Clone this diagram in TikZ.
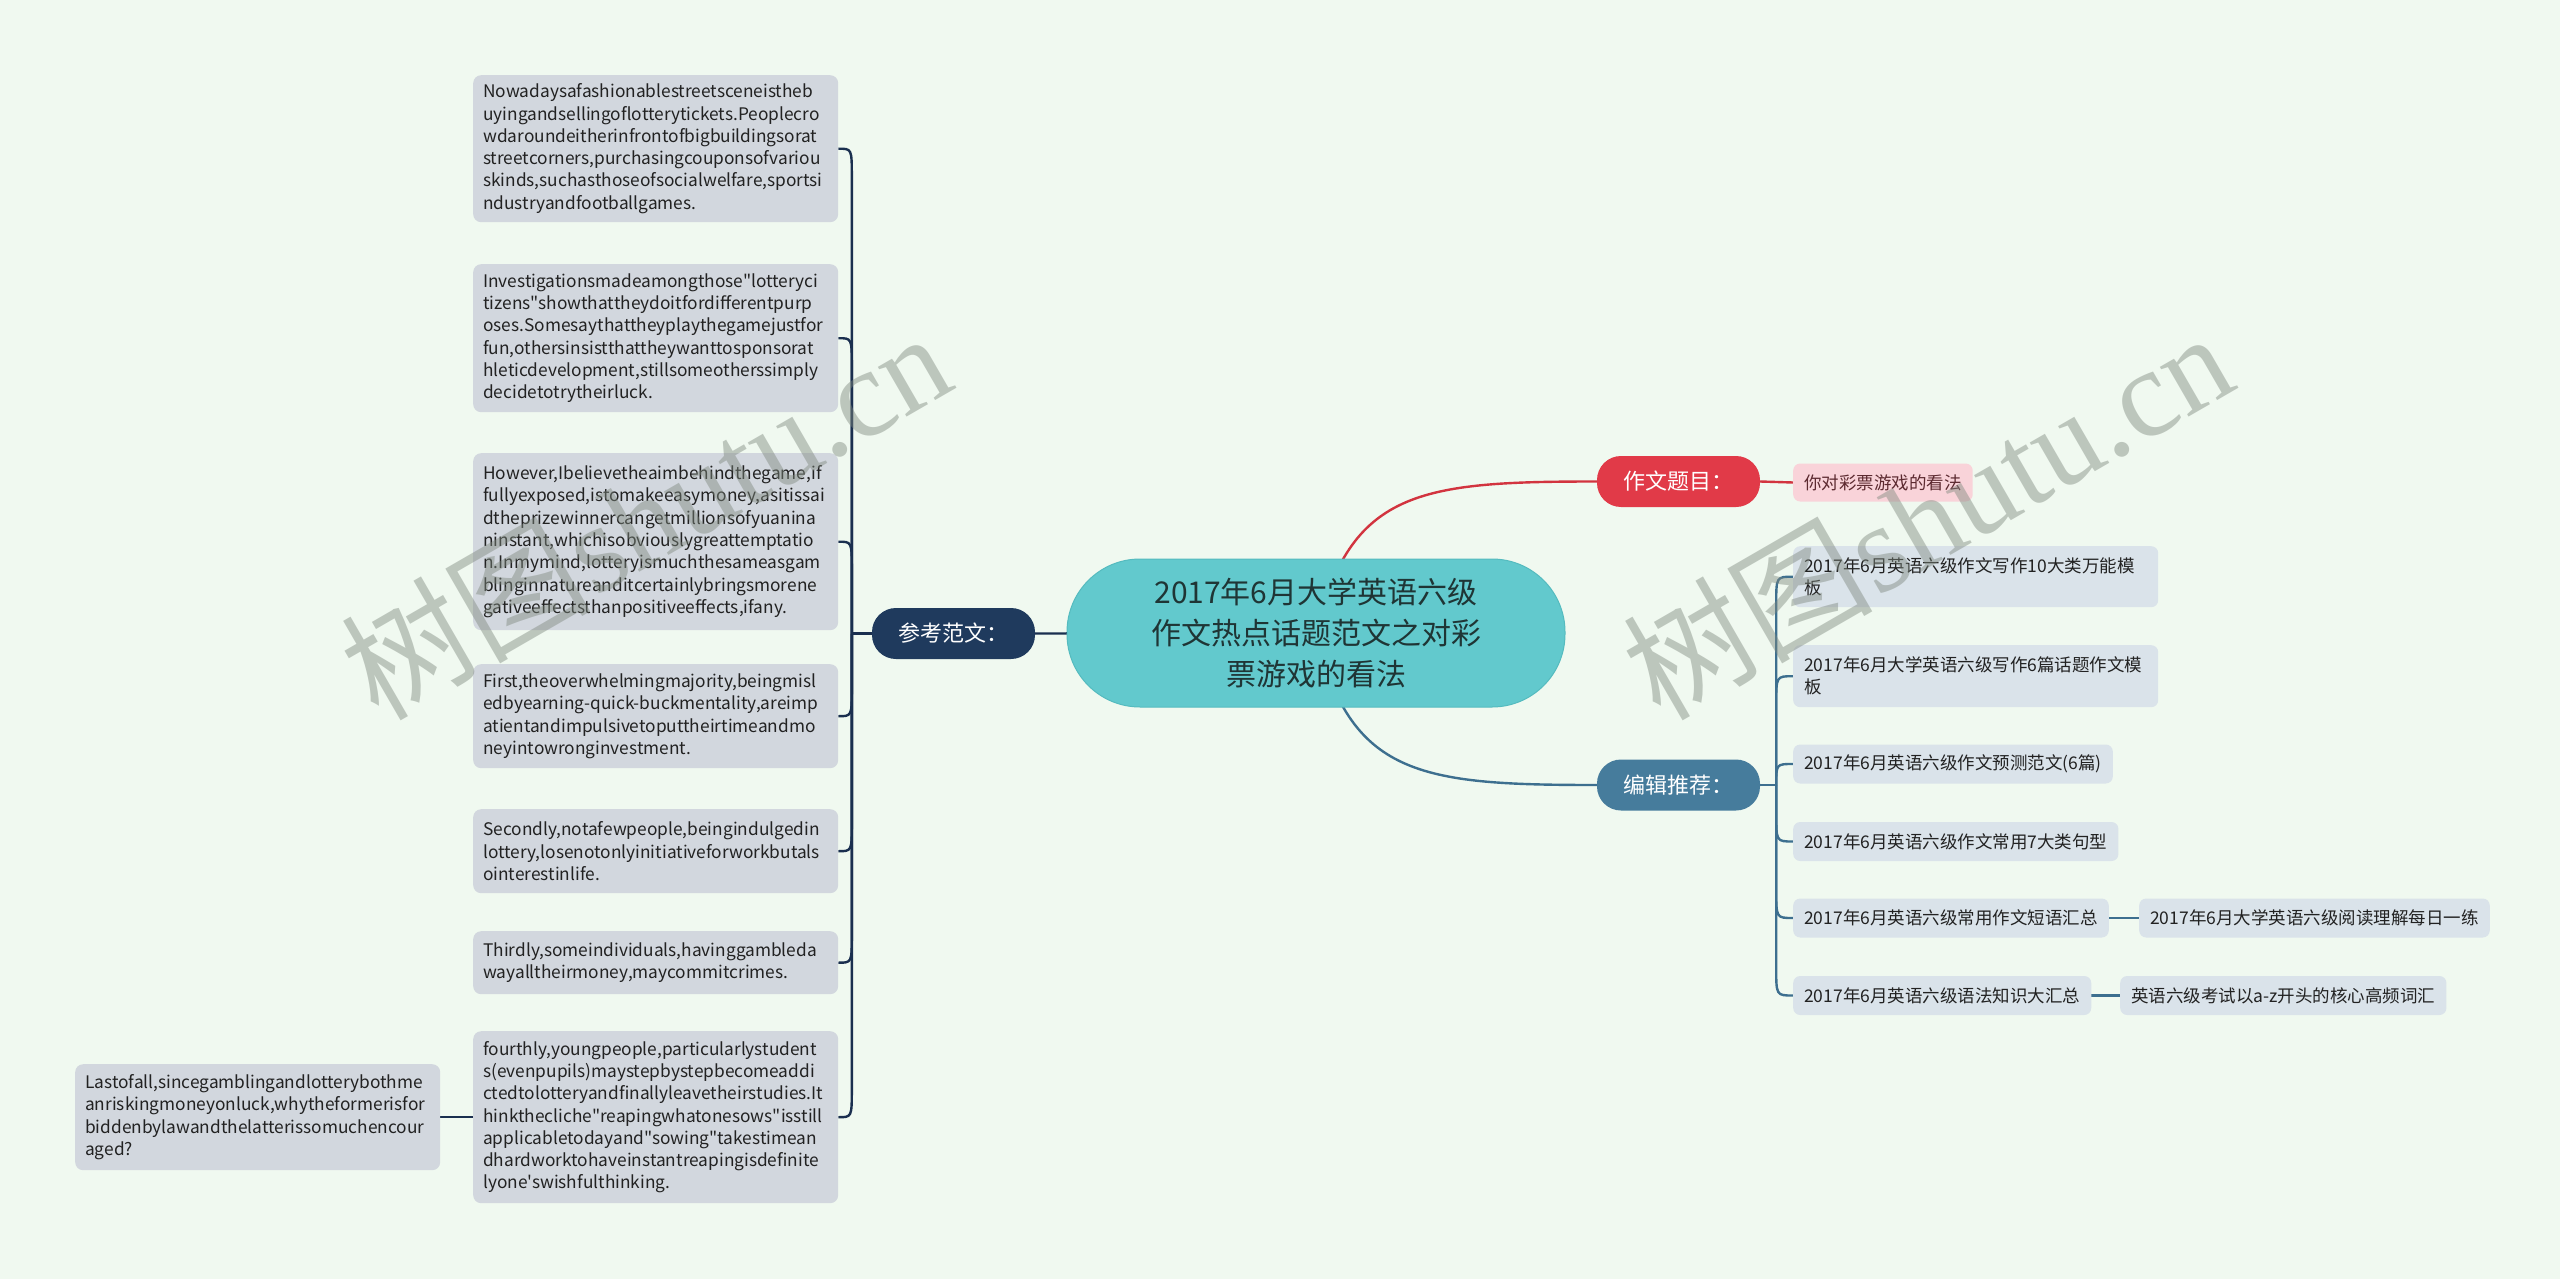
\documentclass[tikz,border=0pt]{standalone}
\usepackage{fontspec}
\newfontfamily\cjk{Noto Sans CJK SC}
\newfontfamily\wmlat{Liberation Serif}
\usetikzlibrary{calc}
\pgfdeclarelayer{back}
\pgfdeclarelayer{bg}
\pgfsetlayers{back,bg,main}
\hyphenpenalty=10000
\exhyphenpenalty=10000
\definecolor{bgc}{HTML}{F0F9F0}
\definecolor{centralc}{HTML}{62C9CD}
\definecolor{centrald}{HTML}{55BBBF}
\definecolor{centralt}{HTML}{1F3535}
\definecolor{navyf}{HTML}{1F3A5D}
\definecolor{navyl}{HTML}{1A2F4F}
\definecolor{redf}{HTML}{E13A48}
\definecolor{redl}{HTML}{D2343F}
\definecolor{bluef}{HTML}{467C9C}
\definecolor{bluel}{HTML}{3D6F8F}
\definecolor{pinkf}{HTML}{F9D3D9}
\definecolor{pinkt}{HTML}{5C2A30}
\definecolor{lleafc}{HTML}{D2D7DE}
\definecolor{rleafc}{HTML}{DAE3EA}
\definecolor{txt}{HTML}{222222}
\definecolor{wmc}{HTML}{7E887E}
\begin{document}
\begin{tikzpicture}[x=1pt,y=-1pt,
  central/.style={fill=centralc, draw=centrald, line width=1pt, rounded corners=73pt,
    minimum width=498pt, minimum height=148pt, align=center, text=centralt,
    font=\cjk\fontsize{30}{41}\selectfont},
  lvlone/.style={rounded corners=24pt, minimum width=163pt, minimum height=51pt,
    text=white, font=\cjk\fontsize{22}{26}\selectfont, inner sep=0pt},
  lleaf/.style={fill=lleafc, rounded corners=8pt, anchor=north west, align=left,
    inner xsep=10pt, inner ysep=0pt, text=txt, text width=345pt,
    font=\cjk\fontsize{17.3}{22.3}\selectfont},
  rleaf/.style={fill=rleafc, rounded corners=7pt, anchor=west, align=left,
    inner xsep=11pt, inner ysep=0pt, text=txt, minimum height=39pt,
    font=\cjk\fontsize{17.5}{22}\selectfont},
  rleaftwo/.style={rleaf, anchor=north west, text width=343pt},
  pleaf/.style={fill=pinkf, rounded corners=7pt, anchor=west, inner xsep=11pt,
    inner ysep=0pt, minimum height=38pt, text=pinkt,
    font=\cjk\fontsize{17.5}{22}\selectfont},
  navycon/.style={draw=navyl, line width=2.4pt},
  redcon/.style={draw=redl, line width=2.4pt},
  bluecon/.style={draw=bluel, line width=2.4pt},
  wm/.style={text=wmc, text opacity=0.45, font=\cjk\fontsize{125}{125}\selectfont, rotate=30, inner sep=0pt}
]
\begin{pgfonlayer}{back}
\fill[bgc] (0,0) rectangle (2560,1279);
\end{pgfonlayer}
\useasboundingbox (0,0) rectangle (2560,1279);

% central
\node[central] (c) at (1316,633) {2017年6月大学英语六级\\作文热点话题范文之对彩\\票游戏的看法};

% level one
\node[lvlone, fill=navyf] (ref) at (953.5,633.5) {参考范文：};
\node[lvlone, fill=redf] (zw) at (1678.5,481.5) {作文题目：};
\node[lvlone, fill=bluef] (bj) at (1678.5,785) {编辑推荐：};

% left leaves
\node[lleaf, minimum height=147pt] (l1) at (473,75) {Nowadaysafashionablestreetsceneistheb\\uyingandsellingoflotterytickets.Peoplecro\\wdaroundeitherinfrontofbigbuildingsorat\\streetcorners,purchasingcouponsofvariou\\skinds,suchasthoseofsocialwelfare,sportsi\\ndustryandfootballgames.};
\node[lleaf, minimum height=148pt] (l2) at (473,264) {Investigationsmadeamongthose"lotteryci\\tizens"showthattheydoitfordifferentpurp\\oses.Somesaythattheyplaythegamejustfor\\fun,othersinsistthattheywanttosponsorat\\hleticdevelopment,stillsomeotherssimply\\decidetotrytheirluck.};
\node[lleaf, minimum height=177pt] (l3) at (473,453) {However,Ibelievetheaimbehindthegame,if\\fullyexposed,istomakeeasymoney,asitissai\\dtheprizewinnercangetmillionsofyuanina\\ninstant,whichisobviouslygreattemptatio\\n.Inmymind,lotteryismuchthesameasgam\\blinginnatureanditcertainlybringsmorene\\gativeeffectsthanpositiveeffects,ifany.};
\node[lleaf, minimum height=104pt] (l4) at (473,664) {First,theoverwhelmingmajority,beingmisl\\edbyearning-quick-buckmentality,areimp\\atientandimpulsivetoputtheirtimeandmo\\neyintowronginvestment.};
\node[lleaf, minimum height=84pt] (l5) at (473,809) {Secondly,notafewpeople,beingindulgedin\\lottery,losenotonlyinitiativeforworkbutals\\ointerestinlife.};
\node[lleaf, minimum height=63pt] (l6) at (473,931) {Thirdly,someindividuals,havinggambleda\\wayalltheirmoney,maycommitcrimes.};
\node[lleaf, minimum height=172pt] (l7) at (473,1031) {fourthly,youngpeople,particularlystudent\\s(evenpupils)maystepbystepbecomeaddi\\ctedtolotteryandfinallyleavetheirstudies.It\\hinkthecliche"reapingwhatonesows"isstill\\applicabletodayand"sowing"takestimean\\dhardworktohaveinstantreapingisdefinite\\lyone\string'swishfulthinking.};
\node[lleaf, minimum height=106pt] (ll) at (75,1064) {Lastofall,sincegamblingandlotterybothme\\anriskingmoneyonluck,whytheformerisfor\\biddenbylawandthelatterissomuchencour\\aged?};

% right leaves
\node[pleaf] (p1) at (1793,482.5) {你对彩票游戏的看法};
\node[rleaftwo, minimum height=61pt] (r1) at (1793,546) {2017年6月英语六级作文写作10大类万能模\\板};
\node[rleaftwo, minimum height=62pt] (r2) at (1793,645) {2017年6月大学英语六级写作6篇话题作文模\\板};
\node[rleaf] (r3) at (1793,764) {2017年6月英语六级作文预测范文(6篇)};
\node[rleaf] (r4) at (1793,841.5) {2017年6月英语六级作文常用7大类句型};
\node[rleaf] (r5) at (1793,918) {2017年6月英语六级常用作文短语汇总};
\node[rleaf] (r5c) at (2139,918) {2017年6月大学英语六级阅读理解每日一练};
\node[rleaf] (r6) at (1793,995.5) {2017年6月英语六级语法知识大汇总};
\node[rleaf] (r6c) at (2120,995.5) {英语六级考试以a-z开头的核心高频词汇};

\coordinate (jl) at ($(ref.west)+(-20,0)$);
\coordinate (jr) at ($(bj.east)+(16,0)$);

\begin{pgfonlayer}{bg}
  % central connectors
  \draw[navycon] (c.center) -- (ref.east);
  \draw[redcon] (c.center) .. controls ($(c.center)+(34,-143)$) and ($(zw.west)+(-177,0)$) .. (zw.west);
  \draw[bluecon] (c.center) .. controls ($(c.center)+(34,143)$) and ($(bj.west)+(-177,0)$) .. (bj.west);
  \draw[redcon] (zw.east) -- (p1.west);
  % left
  \draw[navycon] (ref.west) -- (jl);
  \foreach \n in {l1,l2,l3}{
    \draw[navycon] (jl) -- ($(jl |- \n.east)+(0,28)$) .. controls (jl |- \n.east) .. (\n.east);
  }
  \foreach \n in {l4,l5,l6,l7}{
    \draw[navycon] (jl) -- ($(jl |- \n.east)+(0,-28)$) .. controls (jl |- \n.east) .. (\n.east);
  }
  \draw[navycon] (l7.west) -- (ll.east);
  % right
  \draw[bluecon] (bj.east) -- (jr);
  \foreach \n in {r1,r2}{
    \draw[bluecon] (jr) -- ($(jr |- \n.west)+(0,28)$) .. controls (jr |- \n.west) .. (\n.west);
  }
  \draw[bluecon] (jr) .. controls (jr |- r3.west) .. (r3.west);
  \foreach \n in {r4,r5,r6}{
    \draw[bluecon] (jr) -- ($(jr |- \n.west)+(0,-28)$) .. controls (jr |- \n.west) .. (\n.west);
  }
  \draw[bluecon] (r5.east) -- (r5c.west);
  \draw[bluecon] (r6.east) -- (r6c.west);
\end{pgfonlayer}

% watermarks
\node[wm] (wm1) at (645,514) {树图{\wmlat shutu.cn}};
\node[wm] (wm2) at (1927,514) {树图{\wmlat shutu.cn}};
\end{tikzpicture}
\end{document}
